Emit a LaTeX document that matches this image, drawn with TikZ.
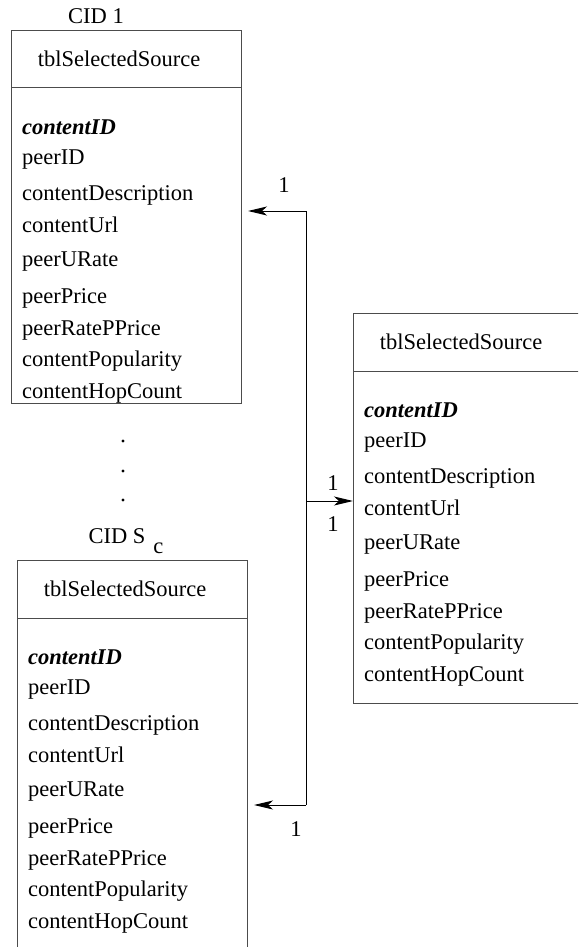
\documentclass[tikz,border=0pt]{standalone}
\usepackage{fontspec}
\setmainfont{Liberation Serif}
\usetikzlibrary{arrows.meta}
\newcommand\tblentity[4]{% name, x, y, height
\begin{scope}[shift={(#2,#3)}]
  \node[tblbox, minimum height=#4, anchor=north west] (#1) at (0,0) {};
  \draw[tblline] (#1.west |- 0,58) -- (#1.east |- 0,58);
  \node[fld, anchor=mid] (#1-h) at (108,29) {tblSelectedSource};
  \node[fld, anchor=mid west] (#1-key) at (11,97) {\textbf{\textit{contentID}}};
  \foreach \t/\yy [count=\i] in {peerID/127, contentDescription/163, contentUrl/195, peerURate/229, peerPrice/266, peerRatePPrice/298, contentPopularity/329, contentHopCount/361}
    \node[fld, anchor=mid west] (#1-f\i) at (11,\yy) {\t};
\end{scope}}
\begin{document}
\begin{tikzpicture}[x=1pt,y=-1pt,
  txt/.style={inner sep=0pt, font=\fontsize{22.5}{27}\selectfont},
  fld/.style={txt, yshift=-5.5pt},
  tblbox/.style={draw=black!70, line width=1pt, minimum width=230pt, inner sep=0pt},
  tblline/.style={draw=black!70, line width=1pt},
  conn/.style={draw=black, line width=1pt},
  tip/.style={-{Stealth[length=19pt,width=9pt,inset=5pt]}}]
\useasboundingbox (0,0) rectangle (578,947);
\clip (0,0) rectangle (578,947);
\tblentity{top}{11}{30}{373}
\tblentity{right}{353}{313}{390}
\tblentity{bot}{17}{560}{420}
\node[txt, anchor=base] (cid1) at (96,24) {CID 1};
\node[txt, anchor=base] (cids) at (126,543) {CID S\hspace{8pt}\raisebox{-10pt}{c}};
\foreach \yy [count=\i] in {441,471,500}
  \fill (123,\yy) circle (1.6) coordinate (dot\i);
\coordinate (busT) at (306,211);
\coordinate (busM) at (306,501);
\coordinate (busB) at (306,805);
\draw[conn] (busT) -- (busB);
\draw[conn, tip, shorten >=6pt] (busT) -- (top.east |- busT);
\draw[conn, tip] (busM) -- (right.west |- busM);
\draw[conn, tip, shorten >=6pt] (busB) -- (bot.east |- busB);
\node[txt] (l1) at (284,185) {1};
\node[txt] (l2) at (333,483) {1};
\node[txt] (l3) at (333,524) {1};
\node[txt] (l4) at (296,829) {1};
\end{tikzpicture}
\end{document}
